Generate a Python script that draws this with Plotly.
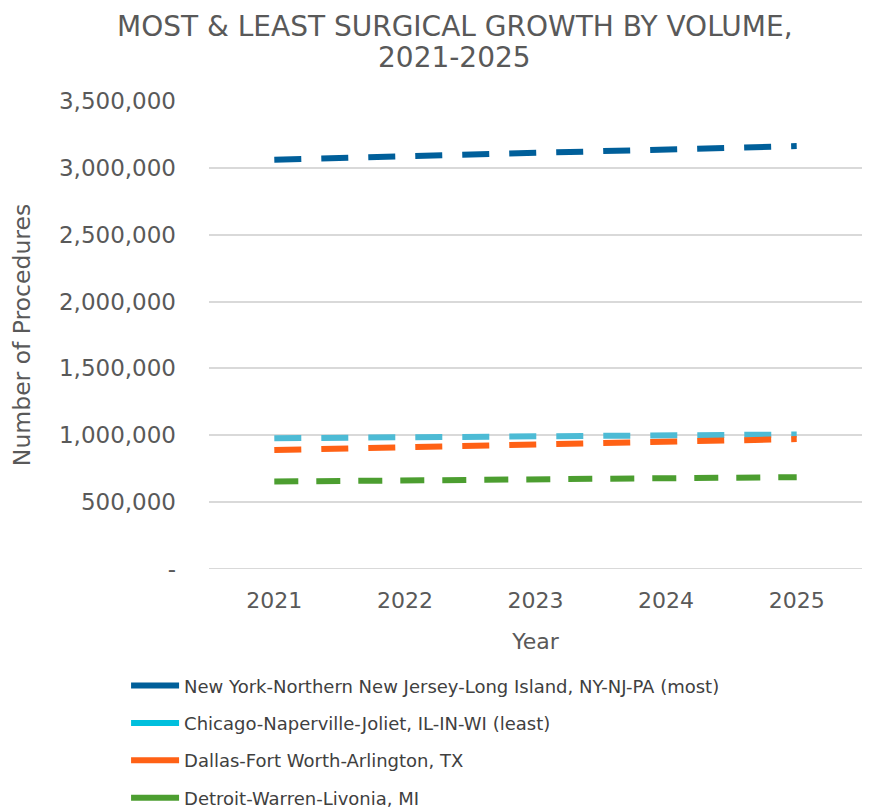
import plotly.graph_objects as go

years = [2021, 2022, 2023, 2024, 2025]
series_names = [
    "New York-Northern New Jersey-Long Island, NY-NJ-PA (most)",
    "Chicago-Naperville-Joliet, IL-IN-WI (least)",
    "Dallas-Fort Worth-Arlington, TX",
    "Detroit-Warren-Livonia, MI",
]
ny = [3061000, 3086000, 3112000, 3137000, 3163000]
chicago = [978000, 985000, 992000, 999000, 1006000]
dallas = [890000, 910000, 931000, 951000, 972000]
detroit = [654000, 662000, 670000, 679000, 687000]
series_values = [ny, chicago, dallas, detroit]

title_lines = ["MOST & LEAST SURGICAL GROWTH BY VOLUME,", "2021-2025"]

line_colors = ["#005F9A", "#4DBBD5", "#FF6115", "#4C9E30"]
legend_colors = ["#005F9A", "#00BFDD", "#FF6115", "#4C9E30"]
dashes = ["27px,20px", "27px,20px", "27px,20px", "24px,18px"]

ytick_vals = [0, 500000, 1000000, 1500000, 2000000, 2500000, 3000000, 3500000]
ytick_text = ["-", "500,000", "1,000,000", "1,500,000", "2,000,000", "2,500,000", "3,000,000", "3,500,000"]

fig = go.Figure()
for i, (name, vals, c, d) in enumerate(zip(series_names, series_values, line_colors, dashes)):
    fig.add_trace(go.Scatter(
        x=years, y=vals, name=name, mode="lines",
        line=dict(color=c, width=6, dash=d),
        showlegend=False, legendgroup=f"g{i}",
    ))
# solid legend entries
for i, (name, c) in enumerate(zip(series_names, legend_colors)):
    fig.add_trace(go.Scatter(
        x=[None], y=[None], name=name, mode="lines",
        line=dict(color=c, width=6),
        showlegend=True, legendgroup=f"g{i}",
    ))

font_family = "'DejaVu Sans', sans-serif"
text_color = "#595959"
fig.update_layout(
    width=871, height=808,
    paper_bgcolor="white", plot_bgcolor="white",
    margin=dict(l=201, r=17, t=93, b=247, autoexpand=False),
    font=dict(family=font_family, color=text_color),
    xaxis=dict(
        range=[2020.5, 2025.5],
        tickvals=years, ticktext=[str(y) for y in years],
        showgrid=False, zeroline=False, showline=False,
        tickfont=dict(size=22, color=text_color),
        title=dict(text="Year", font=dict(size=22, color=text_color), standoff=21),
        ticks="", ticklabelstandoff=16, automargin=False,
    ),
    yaxis=dict(
        range=[0, 3500000],
        tickvals=ytick_vals, ticktext=ytick_text,
        showgrid=True, gridcolor="#D9D9D9", gridwidth=2,
        zeroline=False, showline=False,
        tickfont=dict(size=23, color=text_color),
        title=dict(text="Number of Procedures", font=dict(size=23.5, color=text_color), standoff=26),
        ticks="", ticklabelstandoff=32, automargin=False,
    ),
    legend=dict(
        orientation="v", x=-0.127, xanchor="left", y=-0.2102, yanchor="top",
        font=dict(size=18, color="#404040"),
        tracegroupgap=11, itemwidth=48,
    ),
    showlegend=True,
)
fig.add_annotation(
    text=title_lines[0], xref="paper", yref="paper", x=0.3767, y=1.1582,
    xanchor="center", yanchor="middle", showarrow=False,
    font=dict(size=28, color=text_color, family=font_family),
)
fig.add_annotation(
    text=title_lines[1], xref="paper", yref="paper", x=0.3767, y=1.0920,
    xanchor="center", yanchor="middle", showarrow=False,
    font=dict(size=28, color=text_color, family=font_family),
)
fig.add_shape(type="line", xref="paper", yref="y", x0=0, x1=1, y0=0, y1=0,
              line=dict(color="#D9D9D9", width=2), layer="below")

fig.write_html("out.html")
